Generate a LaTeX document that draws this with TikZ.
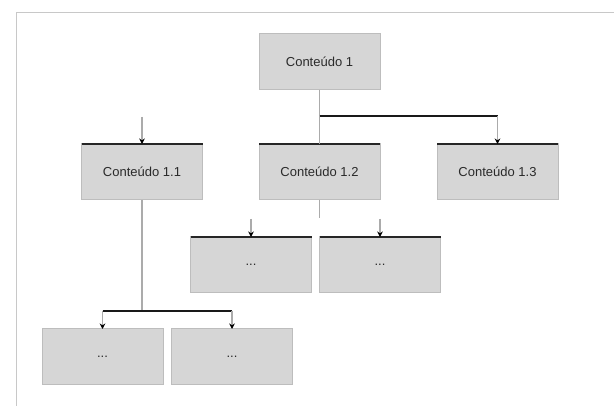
\documentclass[tikz,border=0pt]{standalone}
\usepackage{fontspec}
\setmainfont{Liberation Sans}
\usetikzlibrary{arrows.meta}
\definecolor{boxfill}{HTML}{D6D6D6}
\definecolor{boxline}{HTML}{BDBDBD}
\definecolor{connline}{HTML}{ABABAB}
\definecolor{frameline}{HTML}{C8C8C8}
\definecolor{txt}{HTML}{2A2A2A}
\begin{document}
\begin{tikzpicture}[x=1pt,y=-1pt,
  box/.style={rectangle,fill=boxfill,draw=boxline,line width=1pt,minimum width=121pt,minimum height=56pt,inner sep=0pt,outer sep=0pt,text=txt,font=\fontsize{13}{15}\selectfont},
  topedge/.style={draw=black!85,line width=2.2pt},
  conn/.style={draw=connline,line width=1.2pt},
  bus/.style={draw=black!90,line width=2.2pt},
  arr/.style={draw=connline,line width=1.2pt,-{Stealth[length=5.5pt,width=5.5pt,black]}}]
\useasboundingbox (0,0) rectangle (614,406);
\fill[white] (0,0) rectangle (614,406);
% frame
\draw[frameline,line width=1pt] (16,406) -- (16,13) -- (614,13);
% nodes
\node[box] (root) at (319.5,62) {Conteúdo 1};
\node[box] (b11) at (142,172) {Conteúdo 1.1};
\node[box] (b12) at (319.5,172) {Conteúdo 1.2};
\node[box] (b13) at (497.5,172) {Conteúdo 1.3};
\node[box] (m1) at (251,265) {...};
\node[box] (m2) at (380,265) {...};
\node[box] (l1) at (102.5,357) {...};
\node[box] (l2) at (232,357) {...};
% thick top edges
\foreach \n in {b11,b12,b13,m1,m2}
  \draw[topedge] (\n.north west) -- (\n.north east);
% level 1 connectors
\coordinate (j1) at (319.5,116);
\draw[conn] (root.south) -- (b12.north);
\draw[bus] (j1) -- (b13.north |- j1);
\draw[arr] (b13.north |- j1) -- (b13.north);
\coordinate (s11) at (142,117);
\draw[arr] (s11) -- (b11.north);
% level 2 under 1.2
\coordinate (j2) at (319.5,218);
\draw[conn] (b12.south) -- (j2);
\coordinate (s1) at (251,219);
\coordinate (s2) at (380,219);
\draw[arr] (s1) -- (m1.north);
\draw[arr] (s2) -- (m2.north);
% level 2 under 1.1
\coordinate (j3) at (142,311);
\draw[conn] (b11.south) -- (j3);
\draw[bus] (l1.north |- j3) -- (l2.north |- j3);
\draw[arr] (l1.north |- j3) -- (l1.north);
\draw[arr] (l2.north |- j3) -- (l2.north);
\end{tikzpicture}
\end{document}
